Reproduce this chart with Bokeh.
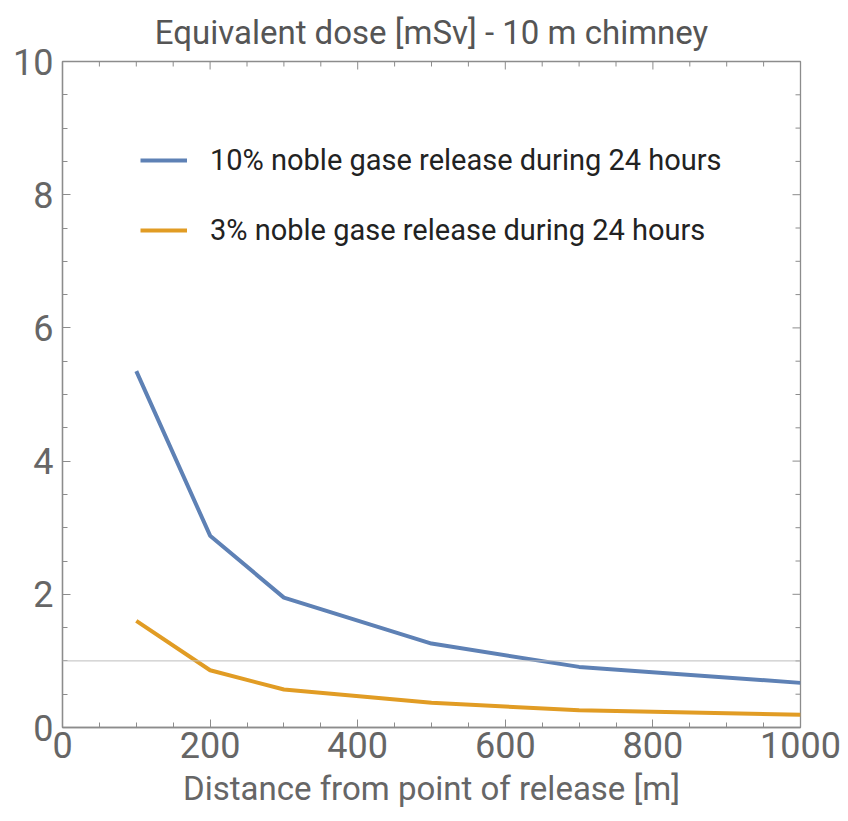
import numpy as np
from bokeh.plotting import figure
from bokeh.models import (Range1d, LinearAxis, SingleIntervalTicker, Span, Legend, LegendItem)
from bokeh.embed import file_html
from bokeh.resources import INLINE

# ---- data ----
distance_m = [100, 200, 300, 500, 700, 1000]
dose_10pct = [5.35, 2.88, 1.95, 1.26, 0.91, 0.67]
dose_3pct = [1.60, 0.86, 0.57, 0.37, 0.26, 0.19]
series_labels = ["10% noble gase release during 24 hours",
                 "3% noble gase release during 24 hours"]
reference_dose = 1.0
x_major_ticks = [0, 200, 400, 600, 800, 1000]
y_major_ticks = [0, 2, 4, 6, 8, 10]
title_text = "Equivalent dose [mSv] - 10 m chimney"
x_label = "Distance from point of release [m]"

BLUE = "#5E81B5"
ORANGE = "#E19C24"
FRAME = "#8c8c8c"
LABEL = "#666666"
FONT = "Roboto"

X0, X1 = x_major_ticks[0], x_major_ticks[-1]
Y0, Y1 = y_major_ticks[0], y_major_ticks[-1]

p = figure(width=848, height=821, output_backend="svg", toolbar_location=None,
           x_range=Range1d(X0, X1), y_range=Range1d(Y0, Y1),
           min_border_left=62, min_border_right=48, min_border_top=60, min_border_bottom=94,
           x_axis_location=None, y_axis_location=None)
p.grid.visible = False
p.outline_line_color = FRAME
p.outline_line_width = 1.3
p.background_fill_color = "white"
p.border_fill_color = "white"

p.title.text = title_text
p.title.align = "center"
p.title.text_font = FONT
p.title.text_font_style = "normal"
p.title.text_font_size = "33px"
p.title.text_color = "#555555"
p.title.standoff = 20

def make_axis(interval, standoff, label=None):
    ax = LinearAxis(ticker=SingleIntervalTicker(interval=interval, num_minor_ticks=4))
    ax.axis_line_color = FRAME
    ax.axis_line_width = 1.3
    ax.major_tick_line_color = FRAME
    ax.minor_tick_line_color = FRAME
    ax.major_tick_in = 8
    ax.major_tick_out = 0
    ax.minor_tick_in = 5
    ax.minor_tick_out = 0
    ax.major_label_text_font = FONT
    ax.major_label_text_color = LABEL
    ax.major_label_text_font_size = "36px"
    ax.major_label_standoff = standoff
    if label:
        ax.axis_label = label
        ax.axis_label_text_font = FONT
        ax.axis_label_text_font_style = "normal"
        ax.axis_label_text_font_size = "33px"
        ax.axis_label_text_color = LABEL
        ax.axis_label_standoff = 8
        ax.axis_label_text_baseline = "middle"
    return ax

p.add_layout(make_axis(200, 4, x_label), "below")
p.add_layout(make_axis(2, 9), "left")

# mirrored inward ticks on top and right frame edges
x_minor = np.linspace(X0, X1, (len(x_major_ticks) - 1) * 4 + 1)
y_minor = np.linspace(Y0, Y1, (len(y_major_ticks) - 1) * 4 + 1)
x_is_major = np.isin(np.round(x_minor, 6), x_major_ticks)
y_is_major = np.isin(np.round(y_minor, 6), y_major_ticks)
p.ray(x=x_minor, y=[Y1] * len(x_minor), length=np.where(x_is_major, 8, 5),
      length_units="screen", angle=-np.pi / 2, line_color=FRAME, line_width=1)
p.ray(x=[X1] * len(y_minor), y=y_minor, length=np.where(y_is_major, 8, 5),
      length_units="screen", angle=np.pi, line_color=FRAME, line_width=1)

p.add_layout(Span(location=reference_dose, dimension="width",
                  line_color="#bdbdbd", line_width=1))

r1 = p.line(distance_m, dose_10pct, line_color=BLUE, line_width=4)
r2 = p.line(distance_m, dose_3pct, line_color=ORANGE, line_width=4)

legend = Legend(items=[LegendItem(label=series_labels[0], renderers=[r1]),
                       LegendItem(label=series_labels[1], renderers=[r2])],
                location=(78, 477), orientation="vertical",
                padding=0, margin=0, spacing=30,
                glyph_width=47, glyph_height=40, label_height=40,
                label_standoff=23,
                label_text_font=FONT, label_text_font_size="29px",
                label_text_color="#222222",
                border_line_alpha=0, background_fill_alpha=0)
p.add_layout(legend, "center")

open("out.html", "w").write(file_html(p, INLINE))
